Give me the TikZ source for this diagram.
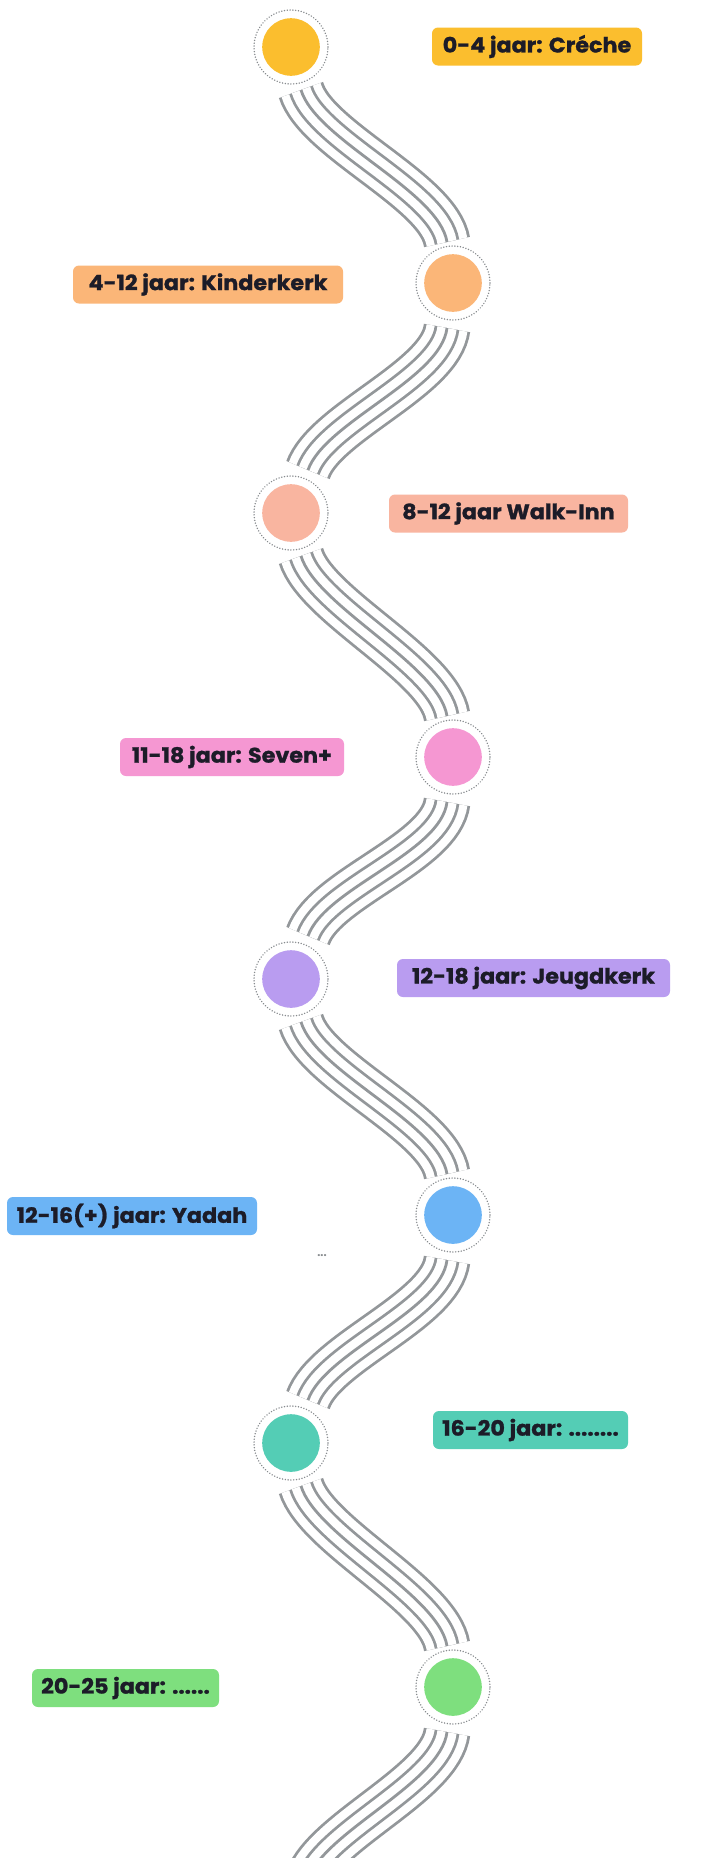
\documentclass[tikz,border=0pt]{standalone}
\usepackage{fontspec}
\setmainfont{Poppins}
\newfontfamily\labfont{Poppins}[FakeBold=1.2,FakeStretch=1.06]
\usetikzlibrary{calc}
\definecolor{cA}{HTML}{FBBE2E}
\definecolor{cB}{HTML}{FBB678}
\definecolor{cC}{HTML}{F9B5A0}
\definecolor{cD}{HTML}{F597D2}
\definecolor{cE}{HTML}{B99CF0}
\definecolor{cF}{HTML}{6CB4F5}
\definecolor{cG}{HTML}{54CDB5}
\definecolor{cH}{HTML}{7EDF7E}
\definecolor{linegrey}{HTML}{93979A}
\definecolor{ringgrey}{HTML}{878B8E}
\definecolor{txt}{HTML}{1C1C28}
\newcommand{\strandset}{%
  \foreach \w/\c in {47/linegrey,41.4/white,25/linegrey,19.4/white,2.8/linegrey}
    {\draw[line width=\w pt,draw=\c,line cap=butt] (bs) .. controls (bp) and (bq) .. (be);}}
\newcommand{\bundleDR}[2]{%
  \coordinate (bs) at ($(#1)+(10,43)$);
  \coordinate (be) at ($(#2)+(-6,-41)$);
  \coordinate (bp) at ($(bs)+(15,50)$);
  \coordinate (bq) at ($(be)+(-8,-51)$);
  \strandset}
\newcommand{\bundleDL}[2]{%
  \coordinate (bs) at ($(#1)+(-6,45)$);
  \coordinate (be) at ($(#2)+(17,-43)$);
  \coordinate (bp) at ($(bs)+(-6,51)$);
  \coordinate (bq) at ($(be)+(17,-48)$);
  \strandset}
\begin{document}
\begin{tikzpicture}[x=1pt,y=-1pt,
  dot/.style={circle,minimum size=57.6pt,inner sep=0pt,draw=none},
  ring/.style={draw=ringgrey,line width=1.6pt,line cap=round,dash pattern=on 0.01pt off 2.8pt},
  lab/.style={rectangle,rounded corners=6pt,inner sep=0pt,minimum height=38pt,text=txt,
    font=\labfont\fontsize{21}{24}\selectfont\bfseries}]
\useasboundingbox (0,0) rectangle (723,1858);
\fill[white] (0,0) rectangle (723,1858);
% circle positions
\coordinate (c1) at (291,47);
\coordinate (c2) at (453,283);
\coordinate (c3) at (291,513);
\coordinate (c4) at (453,757);
\coordinate (c5) at (291,979);
\coordinate (c6) at (453,1215);
\coordinate (c7) at (291,1443);
\coordinate (c8) at (453,1687);
\coordinate (c9) at (291,1922);
\begin{scope}
\clip (0,0) rectangle (723,1858);
\bundleDR{c1}{c2}
\bundleDL{c2}{c3}
\bundleDR{c3}{c4}
\bundleDL{c4}{c5}
\bundleDR{c5}{c6}
\bundleDL{c6}{c7}
\bundleDR{c7}{c8}
\bundleDL{c8}{c9}
\end{scope}
% circles
\foreach \n/\col in {1/cA,2/cB,3/cC,4/cD,5/cE,6/cF,7/cG,8/cH}{
  \node[dot,fill=\col] (n\n) at (c\n) {};
  \draw[ring] (c\n) circle (37pt);
}
% labels
\node[lab,fill=cA,minimum width=210pt] (l1) at (537,46.5) {0-4 jaar: Créche};
\node[lab,fill=cB,minimum width=270pt] (l2) at (208,284.5) {4-12 jaar: Kinderkerk};
\node[lab,fill=cC,minimum width=239pt] (l3) at (508.5,513.5) {8-12 jaar Walk-Inn};
\node[lab,fill=cD,minimum width=224pt] (l4) at (232,757) {11-18 jaar: Seven+};
\node[lab,fill=cE,minimum width=273pt] (l5) at (533.5,978) {12-18 jaar: Jeugdkerk};
\node[lab,fill=cF,minimum width=250pt] (l6) at (132,1216) {12-16(+) jaar: Yadah};
\node[lab,fill=cG,minimum width=195pt] (l7) at (530.5,1430) {16-20 jaar: ........};
\node[lab,fill=cH,minimum width=187pt] (l8) at (125.5,1688) {20-25 jaar: ......};
\node[text=ringgrey,font=\fontsize{11}{12}\selectfont\bfseries,inner sep=0pt] (dots) at (322,1256) {...};
\end{tikzpicture}
\end{document}
